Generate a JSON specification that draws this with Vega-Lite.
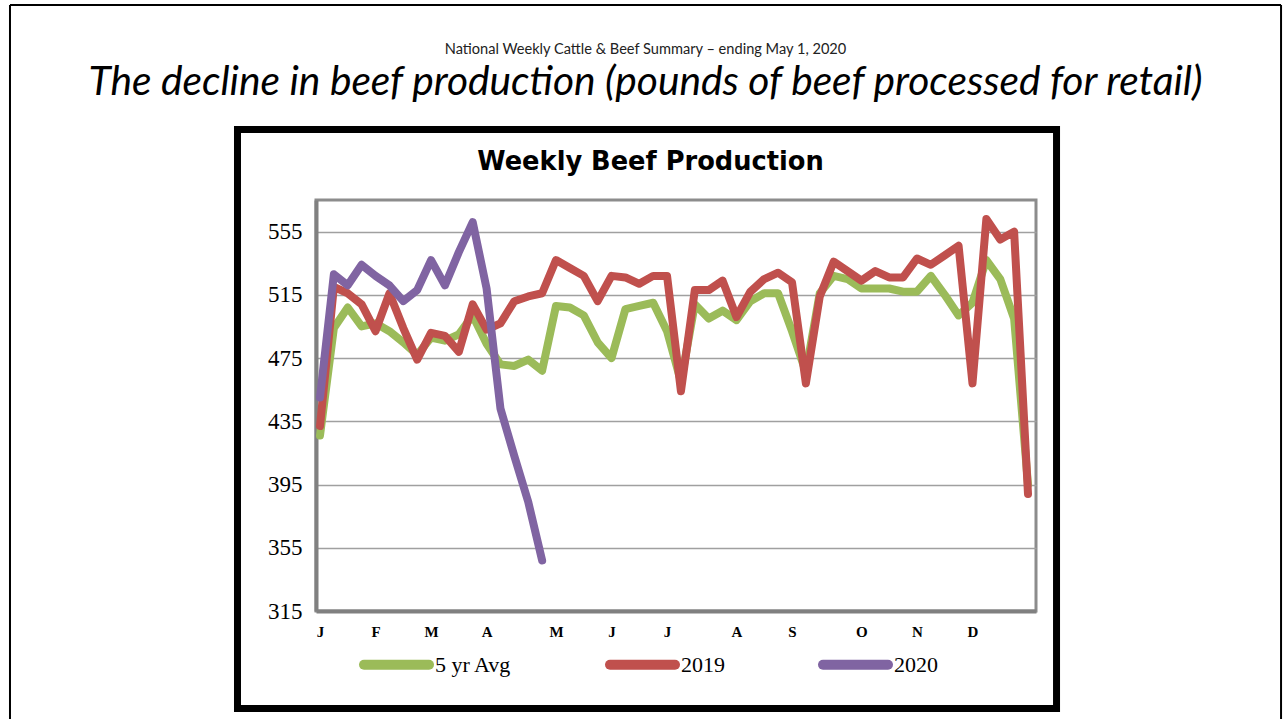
{
  "$schema": "https://vega.github.io/schema/vega-lite/v6.json",
  "padding": {"left": 7, "top": 2, "right": 0, "bottom": 0},
  "background": "white",
  "title": {
    "text": "National Weekly Cattle & Beef Summary – ending May 1, 2020",
    "subtitle": "The decline in beef production (pounds of beef processed for retail)",
    "anchor": "middle",
    "font": "Lato",
    "fontSize": 14.6,
    "fontWeight": "normal",
    "color": "#222222",
    "subtitleFont": "Lato",
    "subtitleFontSize": 40.7,
    "subtitleFontStyle": "italic",
    "subtitleColor": "black",
    "subtitlePadding": 6,
    "offset": 24,
    "dy": 124
  },
  "datasets": {
    "weekly": [
      {"week": 0, "5 yr Avg": 426, "2019": 432, "2020": 450},
      {"week": 1, "5 yr Avg": 494, "2019": 520, "2020": 528},
      {"week": 2, "5 yr Avg": 507, "2019": 516, "2020": 521},
      {"week": 3, "5 yr Avg": 495, "2019": 509, "2020": 534},
      {"week": 4, "5 yr Avg": 497, "2019": 492, "2020": 527},
      {"week": 5, "5 yr Avg": 492, "2019": 516, "2020": 521},
      {"week": 6, "5 yr Avg": 485, "2019": 494, "2020": 511},
      {"week": 7, "5 yr Avg": 477, "2019": 474, "2020": 518},
      {"week": 8, "5 yr Avg": 488, "2019": 491, "2020": 537},
      {"week": 9, "5 yr Avg": 486, "2019": 489, "2020": 521},
      {"week": 10, "5 yr Avg": 490, "2019": 479, "2020": 542},
      {"week": 11, "5 yr Avg": 502, "2019": 509, "2020": 561},
      {"week": 12, "5 yr Avg": 484, "2019": 493, "2020": 519},
      {"week": 13, "5 yr Avg": 471, "2019": 497, "2020": 443},
      {"week": 14, "5 yr Avg": 470, "2019": 511, "2020": 413},
      {"week": 15, "5 yr Avg": 474, "2019": 514, "2020": 384},
      {"week": 16, "5 yr Avg": 467, "2019": 516, "2020": 347},
      {"week": 17, "5 yr Avg": 508, "2019": 537, "2020": null},
      {"week": 18, "5 yr Avg": 507, "2019": 532, "2020": null},
      {"week": 19, "5 yr Avg": 502, "2019": 527, "2020": null},
      {"week": 20, "5 yr Avg": 485, "2019": 511, "2020": null},
      {"week": 21, "5 yr Avg": 475, "2019": 527, "2020": null},
      {"week": 22, "5 yr Avg": 506, "2019": 526, "2020": null},
      {"week": 23, "5 yr Avg": 508, "2019": 522, "2020": null},
      {"week": 24, "5 yr Avg": 510, "2019": 527, "2020": null},
      {"week": 25, "5 yr Avg": 492, "2019": 527, "2020": null},
      {"week": 26, "5 yr Avg": 460, "2019": 454, "2020": null},
      {"week": 27, "5 yr Avg": 509, "2019": 518, "2020": null},
      {"week": 28, "5 yr Avg": 500, "2019": 518, "2020": null},
      {"week": 29, "5 yr Avg": 505, "2019": 524, "2020": null},
      {"week": 30, "5 yr Avg": 499, "2019": 501, "2020": null},
      {"week": 31, "5 yr Avg": 511, "2019": 517, "2020": null},
      {"week": 32, "5 yr Avg": 516, "2019": 525, "2020": null},
      {"week": 33, "5 yr Avg": 516, "2019": 529, "2020": null},
      {"week": 34, "5 yr Avg": 492, "2019": 523, "2020": null},
      {"week": 35, "5 yr Avg": 466, "2019": 459, "2020": null},
      {"week": 36, "5 yr Avg": 516, "2019": 514, "2020": null},
      {"week": 37, "5 yr Avg": 527, "2019": 536, "2020": null},
      {"week": 38, "5 yr Avg": 525, "2019": 530, "2020": null},
      {"week": 39, "5 yr Avg": 519, "2019": 524, "2020": null},
      {"week": 40, "5 yr Avg": 519, "2019": 530, "2020": null},
      {"week": 41, "5 yr Avg": 519, "2019": 526, "2020": null},
      {"week": 42, "5 yr Avg": 517, "2019": 526, "2020": null},
      {"week": 43, "5 yr Avg": 517, "2019": 538, "2020": null},
      {"week": 44, "5 yr Avg": 527, "2019": 534, "2020": null},
      {"week": 45, "5 yr Avg": 515, "2019": 540, "2020": null},
      {"week": 46, "5 yr Avg": 502, "2019": 546, "2020": null},
      {"week": 47, "5 yr Avg": 510, "2019": 459, "2020": null},
      {"week": 48, "5 yr Avg": 537, "2019": 563, "2020": null},
      {"week": 49, "5 yr Avg": 525, "2019": 550, "2020": null},
      {"week": 50, "5 yr Avg": 500, "2019": 555, "2020": null},
      {"week": 51, "5 yr Avg": 395, "2019": 389, "2020": null}
    ]
  },
  "vconcat": [
    {
      "width": 720,
      "height": 411,
      "title": {
        "text": "Weekly Beef Production",
        "anchor": "middle",
        "font": "DejaVu Sans",
        "fontSize": 25.7,
        "fontWeight": "bold",
        "color": "black",
        "offset": 26,
        "dx": -25.5,
        "dy": 198
      },
      "layer": [
        {
          "data": {"name": "weekly"},
          "transform": [{"fold": ["5 yr Avg", "2019", "2020"], "as": ["series", "value"]}],
          "mark": {"type": "line", "strokeWidth": 8, "strokeCap": "round", "strokeJoin": "round"},
          "encoding": {
            "x": {
              "field": "week",
              "type": "quantitative",
              "title": null,
              "scale": {"domain": [-0.288, 51.576], "nice": false, "zero": false},
              "axis": {
                "values": [0, 4, 8, 12, 17, 21, 25, 30, 34, 39, 43, 47],
                "labelExpr": "['J','','','','F','','','','M','','','','A','','','','','M','','','','J','','','','J','','','','','A','','','','S','','','','','O','','','','N','','','','D'][datum.value]",
                "grid": false,
                "ticks": false,
                "domainColor": "#808080",
                "domainWidth": 4,
                "labelFont": "Liberation Serif",
                "labelFontSize": 15,
                "labelFontWeight": "bold",
                "labelColor": "black",
                "labelPadding": 13
              }
            },
            "y": {
              "field": "value",
              "type": "quantitative",
              "title": null,
              "scale": {"domain": [315, 575], "nice": false, "zero": false},
              "axis": {
                "values": [315, 355, 395, 435, 475, 515, 555],
                "grid": true,
                "gridColor": "#a0a0a0",
                "gridWidth": 1.5,
                "ticks": false,
                "domainColor": "#808080",
                "domainWidth": 4,
                "labelFont": "Liberation Serif",
                "labelFontSize": 23,
                "labelColor": "black",
                "labelPadding": 14
              }
            },
            "color": {
              "field": "series",
              "type": "nominal",
              "scale": {"domain": ["5 yr Avg", "2019", "2020"], "range": ["#9BBB59", "#C0504D", "#8064A2"]},
              "legend": {
                "orient": "none",
                "legendX": 43,
                "legendY": 427,
                "direction": "horizontal",
                "title": null,
                "symbolType": "stroke",
                "symbolStrokeWidth": 10,
                "symbolSize": 4225,
                "labelFont": "Liberation Serif",
                "labelFontSize": 22,
                "labelColor": "black",
                "labelOffset": 1,
                "columnPadding": 78,
                "padding": 0,
                "encode": {"symbols": {"update": {"strokeCap": {"value": "round"}}}}
              }
            }
          }
        },
        {
          "data": {"values": [{}]},
          "mark": {"type": "rect", "filled": false, "stroke": "black", "strokeWidth": 7},
          "encoding": {
            "x": {"datum": -5.943, "type": "quantitative", "title": null},
            "x2": {"datum": 53.055},
            "y": {"datum": 619.6, "type": "quantitative", "title": null},
            "y2": {"datum": 253.3}
          }
        },
        {
          "data": {"values": [{}]},
          "mark": {"type": "rule", "stroke": "black", "strokeWidth": 2},
          "encoding": {
            "x": {"datum": -22.331, "type": "quantitative", "title": null},
            "x2": {"datum": 69.227},
            "y": {"datum": 698.35, "type": "quantitative", "title": null}
          }
        },
        {
          "data": {"values": [{}]},
          "mark": {"type": "rule", "stroke": "black", "strokeWidth": 2},
          "encoding": {
            "x": {"datum": -22.331, "type": "quantitative", "title": null},
            "y": {"datum": 698.35, "type": "quantitative", "title": null},
            "y2": {"datum": 246.68}
          }
        },
        {
          "data": {"values": [{}]},
          "mark": {"type": "rule", "stroke": "black", "strokeWidth": 2},
          "encoding": {
            "x": {"datum": 69.227, "type": "quantitative", "title": null},
            "y": {"datum": 698.35, "type": "quantitative", "title": null},
            "y2": {"datum": 246.68}
          }
        }
      ]
    }
  ],
  "config": {
    "view": {"stroke": "#8c8c8c", "strokeWidth": 3}
  }
}
